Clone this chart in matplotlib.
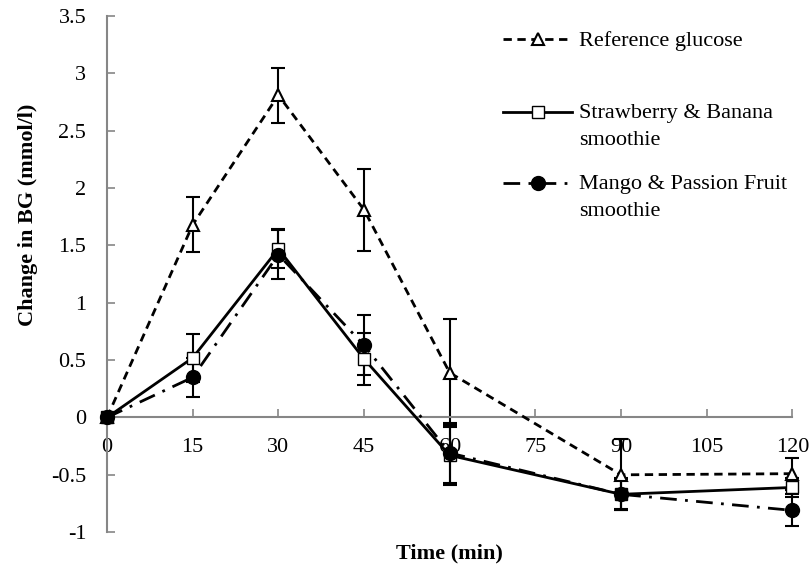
import matplotlib.pyplot as plt
from matplotlib.lines import Line2D

plt.rcParams['font.family'] = ['Liberation Serif', 'DejaVu Serif']

time_min = [0, 15, 30, 45, 60, 90, 120]

ref_glucose = [0, 1.68, 2.81, 1.81, 0.39, -0.50, -0.49]
ref_glucose_err = [0, 0.24, 0.24, 0.36, 0.47, 0.31, 0.14]

straw_banana = [0, 0.52, 1.47, 0.51, -0.33, -0.67, -0.61]
straw_banana_err = [0, 0.21, 0.17, 0.23, 0.26, 0.13, 0.08]

mango_passion = [0, 0.35, 1.42, 0.63, -0.31, -0.67, -0.81]
mango_passion_err = [0, 0.17, 0.21, 0.26, 0.26, 0.14, 0.14]

x_ticks = [0, 15, 30, 45, 60, 75, 90, 105, 120]
y_ticks = [-1, -0.5, 0, 0.5, 1, 1.5, 2, 2.5, 3, 3.5]
y_tick_labels = ['-1', '-0.5', '0', '0.5', '1', '1.5', '2', '2.5', '3', '3.5']

labels = ['Reference glucose\n', 'Strawberry & Banana\nsmoothie',
          'Mango & Passion Fruit\nsmoothie']

fig = plt.figure(figsize=(8.11, 5.71), dpi=100)
ax = fig.add_axes([0.132, 0.068, 0.845, 0.904])

eb_kw = dict(fmt='none', ecolor='black', elinewidth=1.5, capsize=5, capthick=1.5,
             clip_on=False)
ax.errorbar(time_min, ref_glucose, yerr=ref_glucose_err, zorder=2, **eb_kw)
ax.errorbar(time_min, straw_banana, yerr=straw_banana_err, zorder=2, **eb_kw)
ax.errorbar(time_min, mango_passion, yerr=mango_passion_err, zorder=2, **eb_kw)

styles = [
    dict(linestyle=(0, (3, 2)), marker='^', markersize=9, markerfacecolor='white',
         markeredgewidth=1.5),
    dict(linestyle='-', marker='s', markersize=8, markerfacecolor='white',
         markeredgewidth=1),
    dict(linestyle=(0, (6, 3, 1, 3)), marker='o', markersize=10,
         markerfacecolor='black', markeredgewidth=1),
]
series = [ref_glucose, straw_banana, mango_passion]
handles = []
for vals, st, z in zip(series, styles, [3, 4, 5]):
    ax.plot(time_min, vals, color='black', linewidth=2, markeredgecolor='black',
            clip_on=False, zorder=z, **st)
    handles.append(Line2D([], [], color='black', linewidth=2,
                          markeredgecolor='black', **st))

ax.set_xlim(0, 120)
ax.set_ylim(-1, 3.5)
ax.set_xticks(x_ticks)
ax.set_yticks(y_ticks)
ax.set_yticklabels(y_tick_labels)

for side in ['top', 'right']:
    ax.spines[side].set_visible(False)
ax.spines['bottom'].set_position(('data', 0))
for side in ['left', 'bottom']:
    ax.spines[side].set_color('#868686')
    ax.spines[side].set_linewidth(1.5)

ax.tick_params(axis='both', direction='in', length=6, width=1.2, color='#868686',
               labelsize=16)
ax.tick_params(axis='x', pad=15)
ax.tick_params(axis='y', pad=15)

ax.set_xlabel('Time (min)', fontsize=16, fontweight='bold')
ax.xaxis.set_label_coords(0.5, -0.022)
ax.set_ylabel('Change in BG (mmol/l)', fontsize=16, fontweight='bold')
ax.yaxis.set_label_coords(-0.101, 0.614)

leg = ax.legend(handles, labels, loc='upper left', bbox_to_anchor=(0.578, 0.97),
                frameon=False, fontsize=16, handlelength=3.1, handletextpad=0.3,
                labelspacing=1.15, borderpad=0, borderaxespad=0)
for t in leg.get_texts():
    t.set_linespacing(1.57)
for col in leg._legend_handle_box.get_children():
    for row in col.get_children():
        row.align = 'top'

fig.savefig('out.png', dpi=100)
